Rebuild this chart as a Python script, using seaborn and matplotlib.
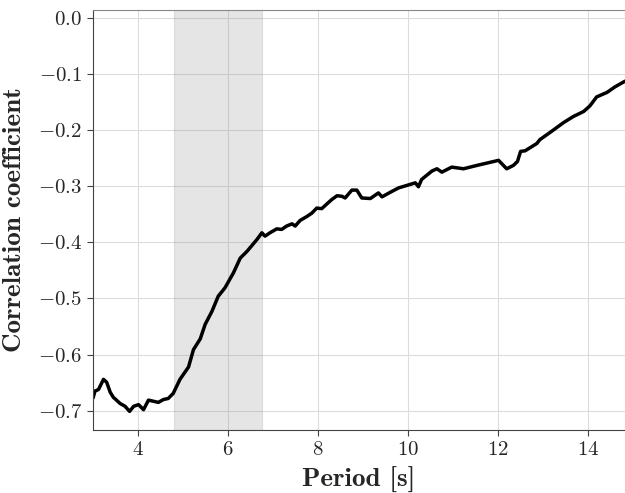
import numpy as np
import pandas as pd
import seaborn as sns
import matplotlib.pyplot as plt

# periyot (s) ve korelasyon katsayisi
period = [3.0, 3.04, 3.12, 3.23, 3.30, 3.38, 3.45, 3.60, 3.71, 3.81, 3.90, 4.01,
          4.12, 4.23, 4.34, 4.45, 4.56, 4.67, 4.78, 4.93, 5.12, 5.23, 5.38, 5.49,
          5.64, 5.78, 5.93, 6.12, 6.27, 6.42, 6.64, 6.75, 6.82, 6.93, 7.08, 7.19,
          7.30, 7.42, 7.49, 7.60, 7.75, 7.86, 7.97, 8.08, 8.30, 8.42, 8.53, 8.60,
          8.75, 8.86, 8.97, 9.16, 9.34, 9.42, 9.60, 9.79, 10.04, 10.16, 10.23,
          10.30, 10.53, 10.64, 10.75, 10.97, 11.23, 11.53, 12.01, 12.19, 12.34,
          12.43, 12.50, 12.60, 12.86, 12.93, 13.16, 13.45, 13.67, 13.90, 14.04,
          14.19, 14.42, 14.60, 14.82]
corr = [-0.677, -0.665, -0.662, -0.644, -0.649, -0.667, -0.676, -0.687, -0.692,
        -0.701, -0.692, -0.689, -0.698, -0.681, -0.683, -0.685, -0.680, -0.678,
        -0.669, -0.644, -0.622, -0.591, -0.572, -0.546, -0.523, -0.496, -0.481,
        -0.454, -0.428, -0.416, -0.395, -0.383, -0.389, -0.383, -0.376, -0.377,
        -0.371, -0.367, -0.371, -0.361, -0.354, -0.348, -0.339, -0.340, -0.324,
        -0.317, -0.318, -0.321, -0.307, -0.307, -0.321, -0.322, -0.312, -0.319,
        -0.311, -0.303, -0.297, -0.294, -0.301, -0.288, -0.273, -0.269, -0.275,
        -0.266, -0.269, -0.263, -0.254, -0.269, -0.263, -0.256, -0.238, -0.237,
        -0.224, -0.217, -0.204, -0.187, -0.176, -0.167, -0.157, -0.141, -0.133,
        -0.123, -0.113]
band = [4.8, 6.75]

df = pd.DataFrame({"period": period, "corr": corr})

sns.set_style("ticks")
plt.rcParams["font.family"] = "serif"
plt.rcParams["font.serif"] = ["cmr10"]
plt.rcParams["mathtext.fontset"] = "cm"
plt.rcParams["axes.formatter.use_mathtext"] = True

fig = plt.figure(figsize=(6.25, 4.93), dpi=100)
ax = fig.add_axes([0.149, 0.128, 0.851, 0.852])

ax.grid(True, color="#dcdcdc", linewidth=0.8)
ax.set_axisbelow(True)
ax.axvspan(band[0], band[1], facecolor="0.5", alpha=0.2, edgecolor="0.5", linewidth=0.8)
sns.lineplot(data=df, x="period", y="corr", color="black", linewidth=2.5, ax=ax)

ax.set_xlim(3.0, 14.82)
ax.set_ylim(-0.734, 0.014)
ax.set_xticks([4, 6, 8, 10, 12, 14])
ax.set_yticks(np.round(np.arange(-0.7, 0.01, 0.1), 1))
ax.tick_params(labelsize=15, color="#444444", length=4, pad=4)
for s in ["left", "bottom"]:
    ax.spines[s].set_color("#444444")
ax.spines["top"].set_color("#888888")
ax.spines["right"].set_visible(False)

ax.set_xlabel("Period [s]", fontfamily="cmb10", fontsize=19.5, labelpad=6)
ax.set_ylabel("Correlation coefficient", fontfamily="cmb10", fontsize=19.5, labelpad=8)

fig.savefig("out.png", dpi=100)
